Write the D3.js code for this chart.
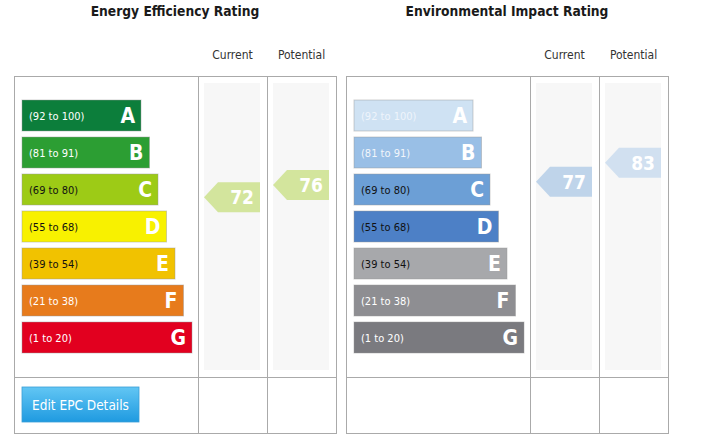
<!DOCTYPE html>
<html>
<head>
<meta charset="utf-8">
<script src="https://cdn.jsdelivr.net/npm/d3@7"></script>
<style>
  body { margin: 0; background: #fff; }
  text { font-family: "DejaVu Sans Condensed", "DejaVu Sans", sans-serif; }
  .title { font-weight: bold; font-size: 13.7px; fill: #1a1a1a; }
  .colHead { font-size: 12px; fill: #333; }
  .range { font-size: 11px; }
  .letter { font-weight: bold; font-size: 21px; fill: #fff; }
  .score { font-weight: bold; font-size: 19px; fill: #fff; }
</style>
</head>
<body>
<div id="chart" style="width:705px;height:447px"></div>
<script>
// rating bands, top (best) to bottom (worst)
const bands = ["A", "B", "C", "D", "E", "F", "G"];
const bandRanges = ["(92 to 100)", "(81 to 91)", "(69 to 80)", "(55 to 68)", "(39 to 54)", "(21 to 38)", "(1 to 20)"];
const bandMin = [92, 81, 69, 55, 39, 21, 1];
const columns = ["Current", "Potential"];

const eeColors = ["#0c7e3b", "#2c9e33", "#9dcb16", "#f8f100", "#f1c200", "#e77b1c", "#e2001f"];
const eeText = ["#fff", "#fff", "#111", "#111", "#111", "#fff", "#fff"];
const eeScores = [72, 76];

const eiColors = ["#cfe2f3", "#99bfe6", "#6c9fd6", "#4d80c6", "#a7a8ab", "#8e8e92", "#7a7a7f"];
const eiText = ["#eef4fb", "#f2f6fb", "#111", "#111", "#111", "#fff", "#fff"];
const eiScores = [77, 83];

const width = 705, height = 447;
const panelW = 322;
const boxTop = 76, boxMid = 377, boxBottom = 433;

const svg = d3.select("#chart")
    .append("svg")
    .attr("width", width)
    .attr("height", height);

// button gradient
const grad = svg.append("defs").append("linearGradient")
    .attr("id", "btnGrad").attr("x1", 0).attr("y1", 0).attr("x2", 0).attr("y2", 1);
grad.append("stop").attr("offset", "0%").attr("stop-color", "#62c6f4");
grad.append("stop").attr("offset", "100%").attr("stop-color", "#1f9ae0");

//vertical band scale for the bars
const yBand = d3.scaleBand()
    .domain(bands)
    .range([97, 97 + bands.length * 37])
    .paddingInner(6 / 37)
    .paddingOuter(3 / 37);

//bar length grows with band index
const barLen = d3.scaleLinear().domain([0, bands.length - 1]).range([119, 170]);

//score -> arrow centre, piecewise over the band rows
const rowEdges = bands.map(b => yBand(b) - 4.5).concat([yBand("G") + yBand.step() - 4.5]);
const scoreY = d3.scaleLinear()
    .domain([101].concat(bandMin))
    .range(rowEdges);

function bandOf(v) {
    return bandMin.findIndex(m => v >= m);
}

function drawPanel(x0, title, colors, textColors, scores, withButton) {
    const g = svg.append("g").attr("transform", `translate(${x0},0)`);

    const colX = d3.scaleBand().domain(columns).range([184, panelW]);

    g.append("text").attr("class", "title")
        .attr("x", panelW / 2).attr("y", 15.5)
        .attr("text-anchor", "middle").text(title);

    g.selectAll(".colHead").data(columns).enter().append("text")
        .attr("class", "colHead")
        .attr("x", d => colX(d) + colX.bandwidth() / 2)
        .attr("y", 58.5)
        .attr("text-anchor", "middle")
        .text(d => d);

    // grey column backgrounds
    g.selectAll(".colBg").data(columns).enter().append("rect")
        .attr("x", d => colX(d) + 6)
        .attr("y", 83)
        .attr("width", colX.bandwidth() - 13)
        .attr("height", 287)
        .attr("fill", "#f7f7f7");

    // table lines
    const lines = g.append("g").attr("stroke", "#aaa").attr("stroke-width", 1).attr("fill", "none");
    lines.append("rect").attr("x", 0.5).attr("y", boxTop + 0.5)
        .attr("width", panelW).attr("height", boxBottom - boxTop);
    lines.append("line").attr("x1", 0.5).attr("x2", panelW + 0.5)
        .attr("y1", boxMid + 0.5).attr("y2", boxMid + 0.5);
    columns.forEach(c => {
        lines.append("line").attr("x1", colX(c) + 0.5).attr("x2", colX(c) + 0.5)
            .attr("y1", boxTop).attr("y2", boxBottom);
    });

    // bars
    const bar = g.selectAll(".bar").data(bands).enter().append("g")
        .attr("transform", d => `translate(8,${yBand(d)})`);

    bar.append("rect")
        .attr("width", (d, i) => barLen(i))
        .attr("height", yBand.bandwidth())
        .attr("fill", (d, i) => colors[i])
        .attr("stroke", "#999")
        .attr("stroke-opacity", 0.45);

    bar.append("text").attr("class", "range")
        .attr("x", 7)
        .attr("y", yBand.bandwidth() / 2 + 4)
        .attr("fill", (d, i) => textColors[i])
        .text((d, i) => bandRanges[i]);

    bar.append("text").attr("class", "letter")
        .attr("x", (d, i) => barLen(i) - 6)
        .attr("y", yBand.bandwidth() / 2 + 7.5)
        .attr("text-anchor", "end")
        .text(d => d);

    // score arrows
    const arrow = g.selectAll(".arrow").data(scores).enter().append("g")
        .attr("transform", (d, i) => `translate(${colX(columns[i]) + 6},${scoreY(d)})`);

    const aw = colX.bandwidth() - 13;
    arrow.append("path")
        .attr("d", `M0,0 L14,-15 L${aw},-15 L${aw},15 L14,15 Z`)
        .attr("fill", d => colors[bandOf(d)])
        .attr("fill-opacity", 0.4);

    arrow.append("text").attr("class", "score")
        .attr("x", aw - 6).attr("y", 7)
        .attr("text-anchor", "end")
        .text(d => d);

    if (withButton) {
        const btn = g.append("g").attr("transform", "translate(8,387)");
        btn.append("rect").attr("width", 117).attr("height", 35)
            .attr("fill", "url(#btnGrad)")
            .attr("stroke", "#3b9fd6").attr("stroke-width", 0.8);
        btn.append("text")
            .attr("x", 58.5).attr("y", 22.5)
            .attr("text-anchor", "middle")
            .attr("fill", "#fff").attr("font-size", "13.5px")
            .text("Edit EPC Details");
    }
}

drawPanel(14, "Energy Efficiency Rating", eeColors, eeText, eeScores, true);
drawPanel(346, "Environmental Impact Rating", eiColors, eiText, eiScores, false);
</script>
</body>
</html>
